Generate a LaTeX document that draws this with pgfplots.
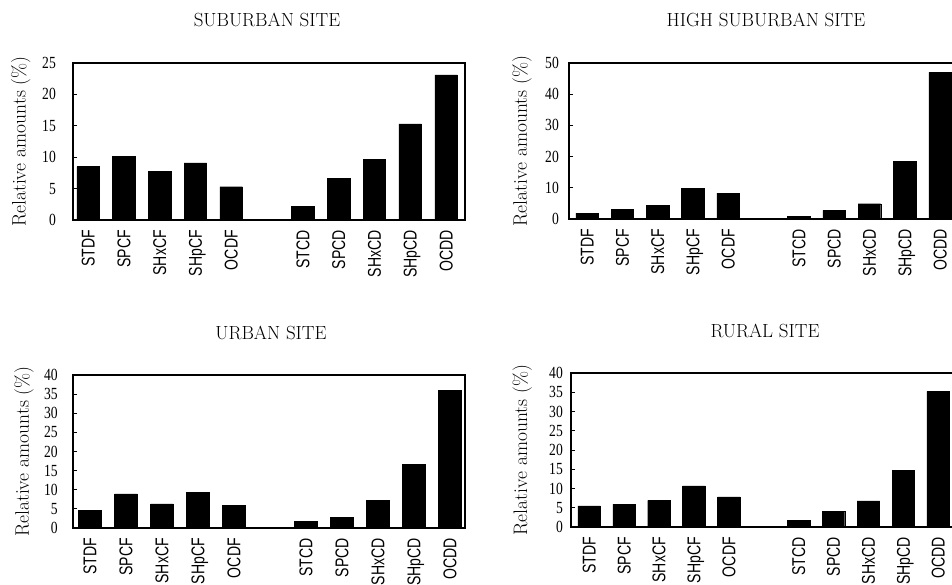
\documentclass[border=0pt]{standalone}
\usepackage{fontspec}
\usepackage{pgfplots}
\pgfplotsset{compat=1.18}
\newfontfamily\xfont[FakeStretch=0.76]{Liberation Sans}
\newfontfamily\tfont[FakeStretch=0.8]{Liberation Serif}
\pgfplotsset{
 site/.style={
  scale only axis,
  ybar, bar width=22.5pt,
  ymin=0, enlargelimits=false,
  xtick={0,1,2,3,4,6,7,8,9,10},
  xticklabels={STDF,SPCF,SHxCF,SHpCF,OCDF,STCD,SPCD,SHxCD,SHpCD,OCDD},
  x tick style={draw=none},
  xticklabel style={rotate=90, anchor=east, font=\xfont\fontsize{18.5}{18.5}\selectfont, inner xsep=10pt, inner ysep=0pt, text height=13pt, text depth=0pt},
  ytick pos=left, tick align=inside, major tick length=4pt,
  y tick style={line width=0.8pt,black},
  /pgf/number format/assume math mode=true,
  yticklabel style={font=\tfont\fontsize{17}{17}\selectfont, inner sep=0pt},
  axis line style={line width=1.1pt},
  ylabel={Relative amounts (\%)},
  ylabel style={font=\fontsize{19.5}{19.5}\selectfont, anchor=center},
 },
 bars/.style={fill=black, draw=black},
}
\begin{document}
\begin{tikzpicture}
% top left
\begin{axis}[site, at={(73pt,364pt)}, anchor=south west, width=392pt, height=157pt,
  xmin=-0.42, xmax=10.53, ymax=25, ytick={0,5,...,25},
  yticklabel style={xshift=-17pt},
  ylabel style={at={(axis description cs:-0.133,0.5)}}]
\addplot[bars] coordinates {(0,8.5) (1,10.1) (2,7.8) (3,9.1) (4,5.3) (6,2.2) (7,6.6) (8,9.7) (9,15.3) (10,23.1)};
\end{axis}
% top right
\begin{axis}[site, at={(569pt,365pt)}, anchor=south west, width=388.7pt, height=156pt,
  xmin=-0.51, xmax=10.5, ymax=50, ytick={0,10,...,50},
  yticklabel style={xshift=-10pt},
  ylabel style={at={(axis description cs:-0.121,0.5)}}]
\addplot[bars] coordinates {(0,1.9) (1,3.0) (2,4.3) (3,9.8) (4,8.3) (6,0.8) (7,2.8) (8,4.9) (9,18.4) (10,47.0)};
\end{axis}
% bottom left
\begin{axis}[site, at={(73pt,56pt)}, anchor=south west, width=392pt, height=153pt,
  xmin=-0.47, xmax=10.42, ymax=40, ytick={0,5,...,40},
  yticklabel style={xshift=-15pt},
  ylabel style={at={(axis description cs:-0.125,0.5)}}]
\addplot[bars] coordinates {(0,4.7) (1,8.9) (2,6.3) (3,9.3) (4,5.9) (6,1.7) (7,2.8) (8,7.3) (9,16.7) (10,36.0)};
\end{axis}
% bottom right
\begin{axis}[site, at={(571pt,57pt)}, anchor=south west, width=384.6pt, height=154pt,
  xmin=-0.52, xmax=10.5, ymax=40, ytick={0,5,...,40},
  yticklabel style={xshift=-8pt},
  ylabel style={at={(axis description cs:-0.127,0.5)}}]
\addplot[bars] coordinates {(0,5.5) (1,5.9) (2,6.9) (3,10.7) (4,7.8) (6,1.7) (7,4.05) (8,6.8) (9,14.8) (10,35.2)};
\end{axis}
\begin{scope}[every node/.style={font=\fontsize{19}{19}\selectfont, anchor=center}]
\node at (267pt,564pt) {SUBURBAN SITE};
\node at (766pt,564pt) {HIGH SUBURBAN SITE};
\node at (271pt,251pt) {URBAN SITE};
\node at (765pt,253pt) {RURAL SITE};
\end{scope}
\pgfresetboundingbox
\useasboundingbox (0pt,0pt) rectangle (952pt,584pt);
\end{tikzpicture}
\end{document}
